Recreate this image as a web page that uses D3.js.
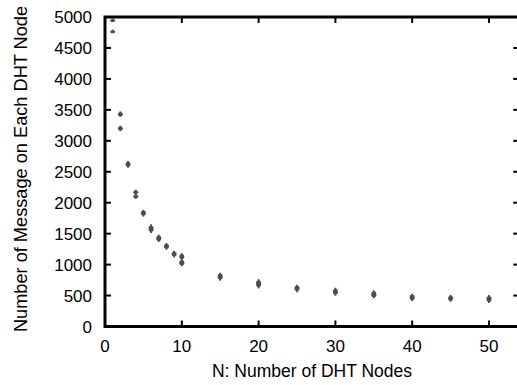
<!DOCTYPE html>
<html>
<head>
<meta charset="utf-8">
<script src="https://cdn.jsdelivr.net/npm/d3@7"></script>
<style>
  body { margin: 0; background: #fff; }
  text { font-family: "Liberation Sans", Arial, sans-serif; }
</style>
</head>
<body>
<svg id="chart" width="517" height="385"></svg>
<script>
// N values, mean message counts and half error
const nodes  = [1, 1, 2, 2, 3, 4, 4, 5, 6, 7, 8, 9, 10, 10, 15, 20, 25, 30, 35, 40, 45, 50];
const means  = [4955, 4770, 3430, 3200, 2620, 2170, 2100, 1830, 1580, 1425, 1295, 1170, 1130, 1030, 805, 690, 615, 562, 520, 470, 455, 445];
const errors = [20, 25, 45, 45, 55, 40, 40, 55, 70, 60, 55, 55, 55, 55, 65, 75, 60, 65, 65, 60, 55, 65];
const xTicks = [0, 10, 20, 30, 40, 50];
const yTicks = [0, 500, 1000, 1500, 2000, 2500, 3000, 3500, 4000, 4500, 5000];

const svg = d3.select("#chart");
const mLeft = 105, mTop = 17, mBottom = 326.5;
const x = d3.scaleLinear().domain([0, 54.2]).range([mLeft, mLeft + 54.2 * 7.68]);
const y = d3.scaleLinear().domain([0, 5000]).range([mBottom, mTop]);
const mRight = x(54.2);
const tick = 6;

// ticks (inward, mirrored)
const g = svg.append("g").attr("stroke", "#000").attr("stroke-width", 2);
xTicks.forEach(t => {
  g.append("line").attr("x1", x(t)).attr("x2", x(t)).attr("y1", mBottom).attr("y2", mBottom - tick);
  g.append("line").attr("x1", x(t)).attr("x2", x(t)).attr("y1", mTop).attr("y2", mTop + tick);
});
yTicks.forEach(t => {
  g.append("line").attr("x1", mLeft).attr("x2", mLeft + tick).attr("y1", y(t)).attr("y2", y(t));
  g.append("line").attr("x1", mRight).attr("x2", mRight - tick - 2).attr("y1", y(t)).attr("y2", y(t));
});

// data points with error bars
const pts = nodes.map((n, i) => ({ n: n, m: means[i], e: errors[i] }));
const pg = svg.append("g").attr("fill", "#4d4d4d").attr("stroke", "#4d4d4d");
pg.selectAll("line.err").data(pts).enter().append("line")
  .attr("x1", d => x(d.n)).attr("x2", d => x(d.n))
  .attr("y1", d => y(d.m - d.e)).attr("y2", d => y(d.m + d.e))
  .attr("stroke-width", 1.8);
pg.selectAll("rect.body").data(pts).enter().append("rect")
  .attr("x", d => x(d.n) - 2.5).attr("width", 5)
  .attr("y", d => y(d.m + d.e * 0.7))
  .attr("height", d => Math.max(3, y(d.m - d.e * 0.7) - y(d.m + d.e * 0.7)))
  .attr("rx", 2).attr("stroke", "none");

// frame
svg.append("rect")
  .attr("x", mLeft).attr("y", mTop)
  .attr("width", mRight - mLeft).attr("height", mBottom - mTop)
  .attr("fill", "none").attr("stroke", "#000").attr("stroke-width", 3);

// tick labels
svg.append("g").selectAll("text").data(yTicks).enter().append("text")
  .attr("x", 92).attr("y", d => y(d)).attr("dy", "0.36em")
  .attr("text-anchor", "end").attr("font-size", 17).text(d => d);
svg.append("g").selectAll("text").data(xTicks).enter().append("text")
  .attr("x", d => x(d)).attr("y", 352)
  .attr("text-anchor", "middle").attr("font-size", 17).text(d => d);

// axis titles
svg.append("text").attr("x", 312).attr("y", 377)
  .attr("text-anchor", "middle").attr("font-size", 17.5)
  .text("N: Number of DHT Nodes");
svg.append("text")
  .attr("transform", "translate(27,169) rotate(-90)")
  .attr("text-anchor", "middle").attr("font-size", 18.2)
  .text("Number of Message on Each DHT Node");
</script>
</body>
</html>
